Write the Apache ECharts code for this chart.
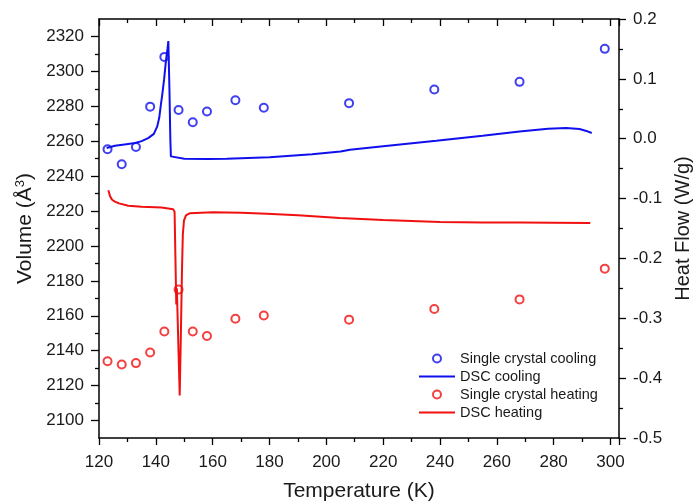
<!DOCTYPE html>
<html>
<head>
<meta charset="utf-8">
<script src="https://cdn.jsdelivr.net/npm/echarts@6/dist/echarts.min.js"></script>
<style>
  html, body { margin: 0; padding: 0; background: #fff; }
  #chart { width: 694px; height: 504px; }
</style>
</head>
<body>
<div id="chart"></div>
<script>
// single crystal volumes (left axis)
const crystalTemp = [123, 128, 133, 138, 143, 148, 153, 158, 168, 178, 208, 238, 268, 298]
const volCooling = [2255.4, 2246.8, 2256.7, 2279.8, 2308.3, 2277.9, 2270.9, 2277, 2283.5, 2279.2, 2281.8, 2289.6, 2294, 2312.9]
const volHeating = [2134, 2132.1, 2132.9, 2139, 2151, 2175, 2151, 2148.4, 2158.3, 2160.2, 2157.8, 2163.9, 2169.4, 2187]

// DSC traces (right axis)
const dscCoolT = [122.7, 125.6, 129, 132.7, 135, 137.3, 139.3, 140.5, 141.2, 141.7, 142.3, 142.9, 143.6, 144.1, 144.4, 144.8, 145.1, 145.3, 146, 150, 158, 165, 180, 195, 205, 208.3, 220, 238.7, 255, 268, 278, 284.4, 289.1, 291.5, 293.4]
const dscCoolHF = [-0.0155, -0.0117, -0.0095, -0.0072, -0.004, 0.001, 0.008, 0.0206, 0.035, 0.054, 0.075, 0.0986, 0.132, 0.15, 0.163, 0.08, 0.0, -0.0295, -0.031, -0.0333, -0.0339, -0.0335, -0.031, -0.026, -0.0212, -0.0183, -0.0125, -0.0033, 0.005, 0.0122, 0.0165, 0.0179, 0.0162, 0.013, 0.0096]
const dscHeatT = [123.3, 123.9, 124.6, 125.6, 127, 130.3, 135, 142, 146.1, 146.6, 146.9, 147.2, 147.4, 147.9, 148.4, 148.8, 149.2, 149.5, 149.9, 150.6, 152, 160, 170, 179, 190, 204.7, 220, 240, 255, 268, 280, 292.9]
const dscHeatHF = [-0.086, -0.096, -0.102, -0.105, -0.108, -0.112, -0.1135, -0.115, -0.118, -0.122, -0.2, -0.277, -0.25, -0.34, -0.429, -0.33, -0.22, -0.16, -0.137, -0.128, -0.1245, -0.123, -0.1235, -0.1253, -0.128, -0.1325, -0.136, -0.1391, -0.1398, -0.1398, -0.1402, -0.1408]

// tick positions for the volume axis
const volMajorTicks = [2100, 2120, 2140, 2160, 2180, 2200, 2220, 2240, 2260, 2280, 2300, 2320]
const volMinorTicks = [2110, 2130, 2150, 2170, 2190, 2210, 2230, 2250, 2270, 2290, 2310]

const BLUE = '#1010ee'
const RED = '#f01010'
const FONT = 'Liberation Sans, Arial, sans-serif'
const LINE_ICON = 'path://M0,0 L36,0 L36,2 L0,2 Z'

const pairs = (xs, ys) => xs.map((x, i) => [x, ys[i]])

const axisLine = { show: true, onZero: false, lineStyle: { color: '#000', width: 1.5 } }
const tickStyle = { color: '#000', width: 1.3 }
const labelStyle = { color: '#1a1a1a', fontSize: 17, fontFamily: FONT }

const chart = echarts.init(document.getElementById('chart'), null, { renderer: 'canvas' })

chart.setOption({
  animation: false,
  backgroundColor: '#fff',
  grid: { left: 99, right: 75, top: 19, bottom: 66, containLabel: false, outerBoundsMode: 'none' },
  legend: {
    orient: 'vertical',
    left: 414,
    top: 346,
    itemWidth: 36,
    itemHeight: 8,
    itemGap: 3,
    textStyle: { fontSize: 14.5, fontFamily: FONT, color: '#1a1a1a' },
    data: [
      { name: 'Single crystal cooling' },
      { name: 'DSC cooling', icon: LINE_ICON },
      { name: 'Single crystal heating' },
      { name: 'DSC heating', icon: LINE_ICON }
    ]
  },
  xAxis: [
    {
      type: 'value',
      position: 'bottom',
      min: 120,
      max: 303,
      interval: 20,
      name: 'Temperature (K)',
      nameLocation: 'middle',
      nameGap: 43,
      nameTextStyle: { fontSize: 21, fontFamily: FONT, color: '#1a1a1a' },
      axisLine: axisLine,
      axisTick: { show: true, length: 7, lineStyle: tickStyle },
      minorTick: { show: true, splitNumber: 2, length: 4, lineStyle: tickStyle },
      axisLabel: Object.assign({ margin: 16, showMaxLabel: false, formatter: v => String(v) }, labelStyle),
      splitLine: { show: false }
    },
    {
      type: 'value',
      position: 'top',
      min: 120,
      max: 303,
      interval: 20,
      axisLine: axisLine,
      axisTick: { show: true, inside: true, length: 7, lineStyle: tickStyle },
      minorTick: { show: true, splitNumber: 2, length: 4, lineStyle: tickStyle },
      axisLabel: { show: false },
      splitLine: { show: false }
    }
  ],
  yAxis: [
    {
      type: 'value',
      position: 'left',
      min: 2090,
      max: 2330,
      name: 'Volume (Å{sup|3})',
      nameLocation: 'middle',
      nameGap: 57,
      nameTextStyle: {
        fontSize: 21, fontFamily: FONT, color: '#1a1a1a',
        rich: { sup: { fontSize: 13, fontFamily: FONT, color: '#1a1a1a', verticalAlign: 'top', lineHeight: 13 } }
      },
      axisLine: axisLine,
      axisTick: { show: true, length: 8, lineStyle: tickStyle, customValues: volMajorTicks },
      axisLabel: Object.assign({ margin: 15, customValues: volMajorTicks, formatter: v => String(v) }, labelStyle),
      splitLine: { show: false }
    },
    {
      type: 'value',
      position: 'left',
      min: 2090,
      max: 2330,
      axisLine: { show: false },
      axisTick: { show: true, length: 4, lineStyle: tickStyle, customValues: volMinorTicks },
      axisLabel: { show: false, customValues: volMinorTicks },
      splitLine: { show: false }
    },
    {
      type: 'value',
      position: 'right',
      min: -0.5,
      max: 0.2,
      interval: 0.1,
      name: 'Heat Flow (W/g)',
      nameLocation: 'middle',
      nameGap: 49,
      nameTextStyle: { fontSize: 20, fontFamily: FONT, color: '#1a1a1a' },
      axisLine: axisLine,
      axisTick: { show: true, length: 7, lineStyle: tickStyle },
      minorTick: { show: true, splitNumber: 2, length: 4, lineStyle: tickStyle },
      axisLabel: Object.assign({ margin: 14, formatter: v => v.toFixed(1) }, labelStyle),
      splitLine: { show: false }
    }
  ],
  series: [
    {
      name: 'Single crystal cooling',
      type: 'scatter',
      yAxisIndex: 0,
      symbol: 'emptyCircle',
      symbolSize: 8,
      itemStyle: { color: BLUE, borderColor: BLUE, borderWidth: 1.6 },
      data: pairs(crystalTemp, volCooling)
    },
    {
      name: 'DSC cooling',
      type: 'line',
      yAxisIndex: 2,
      symbol: 'none',
      lineStyle: { color: BLUE, width: 2 },
      itemStyle: { color: BLUE },
      data: pairs(dscCoolT, dscCoolHF)
    },
    {
      name: 'Single crystal heating',
      type: 'scatter',
      yAxisIndex: 0,
      symbol: 'emptyCircle',
      symbolSize: 8,
      itemStyle: { color: RED, borderColor: RED, borderWidth: 1.6 },
      data: pairs(crystalTemp, volHeating)
    },
    {
      name: 'DSC heating',
      type: 'line',
      yAxisIndex: 2,
      symbol: 'none',
      lineStyle: { color: RED, width: 2 },
      itemStyle: { color: RED },
      data: pairs(dscHeatT, dscHeatHF)
    }
  ]
})
</script>
</body>
</html>
